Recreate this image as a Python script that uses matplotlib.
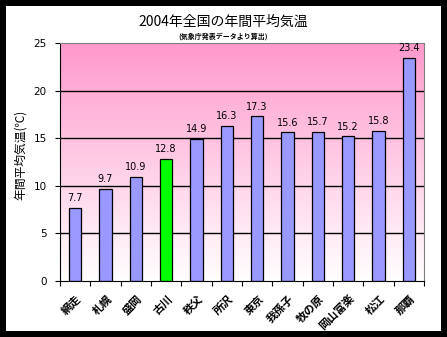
import numpy as np
import matplotlib
matplotlib.use("Agg")
import matplotlib.pyplot as plt
from matplotlib.patches import Rectangle

plt.rcParams['font.family'] = ['Noto Sans CJK JP', 'DejaVu Sans']

cities = ['網走', '札幌', '盛岡', '古川', '秩父', '所沢', '東京', '我孫子',
          '牧の原', '岡山富楽', '松江', '那覇']
temps = [7.7, 9.7, 10.9, 12.8, 14.9, 16.3, 17.3, 15.6, 15.7, 15.2, 15.8, 23.4]
highlight = '古川'
yticks = [0, 5, 10, 15, 20, 25]

fig = plt.figure(figsize=(4.47, 3.37), dpi=100)
fig.patch.set_facecolor('black')
# white panel inside the black frame
fig.patches.append(Rectangle((6 / 447, 6 / 337), 435 / 447, 325 / 337,
                             transform=fig.transFigure, facecolor='white',
                             edgecolor='none', zorder=-5))

ax = fig.add_axes([60 / 447, 56 / 337, 364 / 447, 238 / 337])
x = np.arange(len(cities))
ax.set_xlim(-0.5, len(cities) - 0.5)
ax.set_ylim(0, 25)

# pink -> white background gradient
grad = np.linspace(1, 0, 256).reshape(-1, 1)
top = np.array([1.0, 0.6, 0.8])
img = np.ones((256, 1, 3)) - grad[..., None] * (1 - top)
ax.imshow(img, extent=[-0.5, len(cities) - 0.5, 0, 25], aspect='auto',
          zorder=0, interpolation='bicubic')

for y in yticks[1:-1]:
    ax.axhline(y, color='black', lw=1, zorder=1)

colors = ['#00ff00' if c == highlight else '#9999ff' for c in cities]
ax.bar(x, temps, width=0.4, color=colors, edgecolor='black', lw=0.9, zorder=2)
for xi, t in zip(x, temps):
    ax.text(xi, t + 0.5, f'{t:.1f}', ha='center', va='bottom', fontsize=7,
            family='DejaVu Sans')

ax.set_yticks(yticks)
ax.set_yticklabels([str(v) for v in yticks], fontsize=7.5, family='DejaVu Sans')
ax.set_xticks(np.arange(len(cities) + 1) - 0.5, minor=False)
ax.set_xticklabels([])
ax.set_xticks(x, minor=True)
ax.set_xticklabels(cities, minor=True, rotation=45, ha='right',
                   rotation_mode='anchor', fontsize=8, fontweight='bold')
ax.tick_params(axis='x', which='minor', length=0, pad=8)
ax.tick_params(axis='x', which='major', length=3.5, direction='out')
ax.tick_params(axis='y', length=3.5, direction='out', pad=6)
ax.spines['left'].set_color('black')
ax.spines['bottom'].set_color('black')
ax.spines['top'].set_color('#808080')
ax.spines['right'].set_color('#808080')

ax.set_ylabel('年間平均気温(℃)', fontsize=8.5)
ax.yaxis.set_label_coords(-33 / 364, 0.53)
fig.text(0.5, 1 - 22 / 337, '2004年全国の年間平均気温', ha='center', va='center',
         fontsize=10)
fig.text(0.5, 1 - 36 / 337, '(気象庁発表データより算出)', ha='center', va='center',
         fontsize=5, fontweight='bold')

fig.savefig('out.png', dpi=100, facecolor='black')
